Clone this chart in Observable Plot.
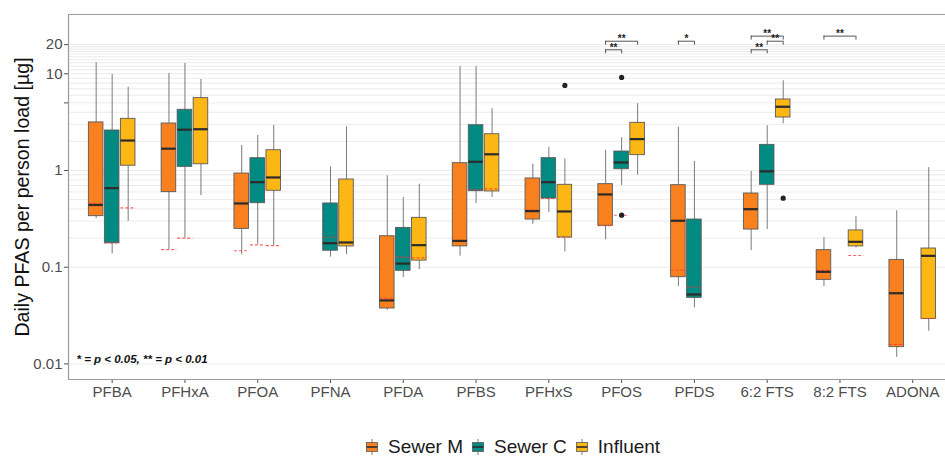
<!DOCTYPE html>
<html>
<head>
<meta charset="utf-8">
<script src="https://cdn.jsdelivr.net/npm/d3@7"></script>
<script src="https://cdn.jsdelivr.net/npm/@observablehq/plot@0.6"></script>
<style>
  html, body { margin: 0; padding: 0; background: #fff; overflow: hidden; }
  #wrap { position: relative; width: 945px; height: 456px; }
  #legend { position: absolute; left: 366px; top: 436px; height: 22px; display: flex; align-items: center;
            font-family: "Liberation Sans", Arial, sans-serif; font-size: 19px; color: #1a1a1a; }
  #legend .item { display: flex; align-items: center; margin-right: 9px; }
  #legend svg { margin-right: 10px; }
</style>
</head>
<body>
<div id="wrap"></div>
<script>
// ---------------- data ----------------
const categories = ["PFBA","PFHxA","PFOA","PFNA","PFDA","PFBS","PFHxS","PFOS","PFDS","6:2 FTS","8:2 FTS","ADONA"];
const series = ["Sewer M","Sewer C","Influent"];
const colors = ["#F8801F","#008A82","#FDB714"];

// [min, q1, median, q3, max] per category (null = no box)
const sewerM = [
  [0.317,0.337,0.44,3.14,13.0],
  [0.152,0.597,1.68,3.06,10.1],
  [0.134,0.249,0.456,0.93,1.81],
  null,
  [0.0358,0.0374,0.0453,0.209,0.881],
  [0.13,0.164,0.187,1.19,11.9],
  [0.277,0.311,0.38,0.827,1.16],
  [0.192,0.268,0.565,0.722,1.62],
  [0.063,0.0788,0.302,0.705,2.8],
  [0.148,0.245,0.398,0.578,0.98],
  [0.063,0.074,0.0895,0.15,0.203],
  [0.0117,0.0149,0.0538,0.119,0.383]
];
const sewerC = [
  [0.137,0.177,0.656,2.59,9.84],
  [0.2,1.09,2.64,4.24,12.8],
  [0.172,0.459,0.757,1.34,2.3],
  [0.127,0.148,0.177,0.456,1.09],
  [0.0782,0.0918,0.109,0.255,0.526],
  [0.456,0.611,1.23,2.94,11.9],
  [0.368,0.513,0.757,1.34,1.74],
  [0.70,1.03,1.21,1.57,2.18],
  [0.038,0.0482,0.0522,0.311,1.24],
  [0.245,0.711,0.98,1.84,2.9],
  null,
  null
];
const influent = [
  [0.297,1.12,2.04,3.42,7.27],
  [0.55,1.16,2.67,5.6,8.73],
  [0.167,0.617,0.847,1.62,2.92],
  [0.135,0.164,0.18,0.807,2.83],
  [0.0946,0.117,0.169,0.324,0.722],
  [0.526,0.607,1.47,2.37,4.35],
  [0.144,0.203,0.377,0.711,1.32],
  [0.895,1.44,2.11,3.11,4.9],
  null,
  [3.04,3.53,4.56,5.42,8.46],
  [0.158,0.164,0.183,0.24,0.334],
  [0.0218,0.0292,0.131,0.156,1.07]
];
// red dashed reference levels (LOQ) per box
const loqM = [0.459,0.152,0.148,null,0.0478,0.188,0.39,0.268,0.0931,null,0.0928,0.0159];
const loqC = [0.178,0.2,0.17,0.204,0.127,0.631,0.513,0.345,0.0621,null,null,null];
const loqI = [0.411,null,0.167,0.181,0.125,0.646,0.204,null,null,null,0.132,0.0295];

const outlierCat = ["PFHxS","PFOS","PFOS","6:2 FTS"];
const outlierSeries = ["Influent","Sewer C","Sewer C","Influent"];
const outlierValue = [7.57, 9.16, 0.345, 0.517];

const sigCat = ["PFOS","PFOS","PFDS","6:2 FTS","6:2 FTS","6:2 FTS","8:2 FTS"];
const sigFrom = ["Sewer M","Sewer M","Sewer M","Sewer M","Sewer C","Sewer M","Sewer M"];
const sigTo = ["Sewer C","Influent","Sewer C","Sewer C","Influent","Influent","Influent"];
const sigLevel = [17.7, 21.7, 21.7, 17.7, 21.7, 24.5, 24.5];
const sigLabel = ["**","**","*","**","**","**","**"];

const yTicks = [0.01, 0.1, 1, 5, 10, 20];
const gridValues = [0.01, 0.1,0.2,0.3,0.4,0.5,0.6,0.7,0.8,0.9, 1,2,3,4,5,6,7,8,9,10,11,12,13,14,15,16,17,18,19,20];
const yTitle = "Daily PFAS per person load [µg]";
const note = "* = p < 0.05, ** = p < 0.01";

// ---------------- layout helpers ----------------
const dodge = {"Sewer M": -0.22, "Sewer C": 0, "Influent": 0.22};
const hw = 0.1;
const stats = [sewerM, sewerC, influent];
const loqs = [loqM, loqC, loqI];
const boxes = [];
series.forEach((s, j) => {
  categories.forEach((c, i) => {
    const st = stats[j][i];
    if (!st) return;
    boxes.push({cat: c, series: s, x: i + dodge[s], min: st[0], q1: st[1], med: st[2], q3: st[3], max: st[4], loq: loqs[j][i]});
  });
});
const loqRows = boxes.filter(d => d.loq != null);
const outliers = outlierValue.map((v, k) => ({x: categories.indexOf(outlierCat[k]) + dodge[outlierSeries[k]], v}));
const sig = sigLevel.map((y, k) => {
  const i = categories.indexOf(sigCat[k]);
  return {x1: i + dodge[sigFrom[k]], x2: i + dodge[sigTo[k]], y, yEnd: y * Math.pow(10, -4/96.7), label: sigLabel[k]};
});
const sigEnds = sig.flatMap(d => [{x: d.x1, y1: d.yEnd, y2: d.y}, {x: d.x2, y1: d.yEnd, y2: d.y}]);

const yDomain = [0.0069, 41];
const xDomain = [-0.6, 11.45];

const chart = Plot.plot({
  width: 945,
  height: 420,
  marginLeft: 68,
  marginRight: 0,
  marginTop: 14,
  marginBottom: 41,
  style: {fontFamily: "'Liberation Sans', Arial, sans-serif", fontSize: "15px", color: "#4d4d4d", background: "#fff"},
  x: {type: "linear", domain: xDomain, ticks: categories.map((c, i) => i), tickFormat: i => categories[i], tickSize: 4, tickPadding: 3, label: null},
  y: {type: "log", domain: yDomain, ticks: yTicks, tickFormat: d => String(d), tickSize: 4, tickPadding: 2, label: null},
  color: {domain: series, range: colors},
  marks: [
    Plot.ruleY(gridValues, {stroke: "#ebebeb", strokeWidth: 1}),
    Plot.ruleY(yDomain, {stroke: "#9a9a9a", strokeWidth: 1.2}),
    Plot.ruleX([xDomain[0]], {stroke: "#9a9a9a", strokeWidth: 1.2}),
    Plot.ruleX(boxes, {x: "x", y1: "min", y2: "max", stroke: "#7a7a7a", strokeWidth: 1}),
    Plot.rect(boxes, {x1: d => d.x - hw, x2: d => d.x + hw, y1: "q1", y2: "q3", fill: "series", stroke: "#5a5a5a", strokeWidth: 0.9}),
    Plot.ruleY(loqRows, {x1: d => d.x - hw, x2: d => d.x + hw + 0.01, y: "loq", stroke: "#ff3030", strokeOpacity: 0.75, strokeWidth: 1.1, strokeDasharray: "3,2"}),
    Plot.ruleY(boxes, {x1: d => d.x - hw, x2: d => d.x + hw, y: "med", stroke: "#2b2b2b", strokeWidth: 2.2}),
    Plot.dot(outliers, {x: "x", y: "v", r: 2.6, fill: "#222", stroke: null}),
    Plot.ruleY(sig, {x1: "x1", x2: "x2", y: "y", stroke: "#555", strokeWidth: 1}),
    Plot.ruleX(sigEnds, {x: "x", y1: "y1", y2: "y2", stroke: "#555", strokeWidth: 1}),
    Plot.text(sig, {x: d => (d.x1 + d.x2) / 2, y: "y", text: "label", fontSize: 10, fontWeight: "bold", fill: "#222", dy: -2}),
    Plot.text([note], {frameAnchor: "bottom-left", dx: 8, dy: -17, text: d => d, fontSize: 11.5, fontWeight: "bold", fontStyle: "italic", fill: "#111", textAnchor: "start"}),
    Plot.text([yTitle], {frameAnchor: "left", textAnchor: "middle", dx: -46, rotate: -90, text: d => d, fontSize: 19.6, fill: "#111"})
  ]
});
document.getElementById("wrap").appendChild(chart);

// legend below the SVG
const legend = document.createElement("div");
legend.id = "legend";
series.forEach((s, j) => {
  const item = document.createElement("div");
  item.className = "item";
  const ns = "http://www.w3.org/2000/svg";
  const svg = document.createElementNS(ns, "svg");
  svg.setAttribute("width", 12); svg.setAttribute("height", 18);
  const line = document.createElementNS(ns, "line");
  line.setAttribute("x1", 6); line.setAttribute("x2", 6); line.setAttribute("y1", 1); line.setAttribute("y2", 17);
  line.setAttribute("stroke", "#7a7a7a");
  const rect = document.createElementNS(ns, "rect");
  rect.setAttribute("x", 0.5); rect.setAttribute("y", 4.5); rect.setAttribute("width", 11); rect.setAttribute("height", 9);
  rect.setAttribute("fill", colors[j]); rect.setAttribute("stroke", "#5a5a5a"); rect.setAttribute("stroke-width", 0.8);
  const med = document.createElementNS(ns, "line");
  med.setAttribute("x1", 0.5); med.setAttribute("x2", 11.5); med.setAttribute("y1", 9); med.setAttribute("y2", 9);
  med.setAttribute("stroke", "#2b2b2b"); med.setAttribute("stroke-width", 1.6);
  svg.appendChild(line); svg.appendChild(rect); svg.appendChild(med);
  item.appendChild(svg);
  const t = document.createElement("span");
  t.textContent = s;
  item.appendChild(t);
  legend.appendChild(item);
});
document.getElementById("wrap").appendChild(legend);
</script>
</body>
</html>
